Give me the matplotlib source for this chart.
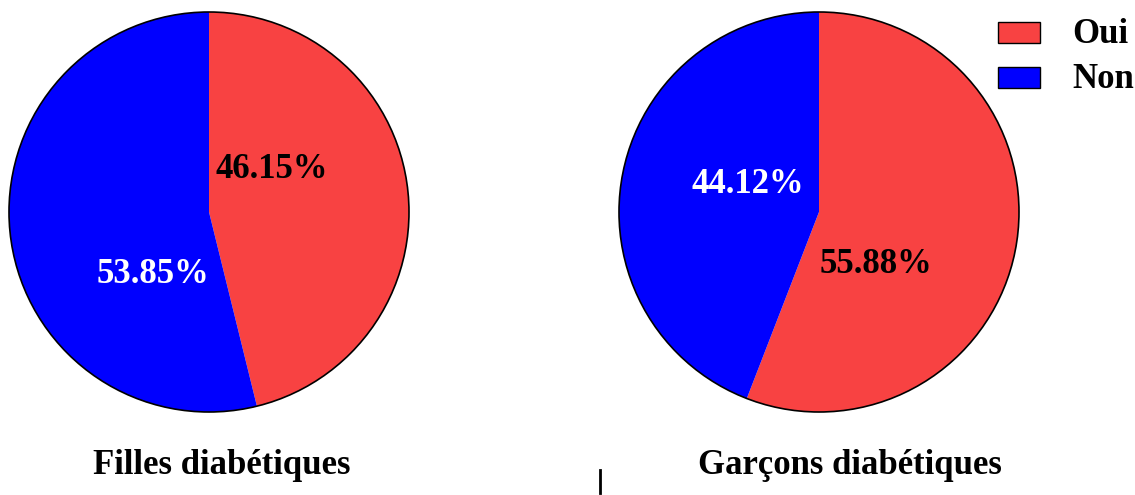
import matplotlib
matplotlib.use("Agg")
import matplotlib.pyplot as plt
from matplotlib.patches import Circle, Rectangle
from matplotlib.lines import Line2D

plt.rcParams['font.family'] = ['Liberation Serif', 'DejaVu Serif']
plt.rcParams['font.weight'] = 'bold'

categories = ["Oui", "Non"]
filles = [46.15, 53.85]
garcons = [55.88, 44.12]
titles = ["Filles diabétiques", "Garçons diabétiques"]
colors = ["#F84242", "#0000FF"]
text_colors = ["black", "white"]

W, H = 1135, 495
fig = plt.figure(figsize=(W / 100, H / 100), dpi=100)


def pie_axes(cx, cy, r):
    return fig.add_axes([(cx - r) / W, (H - cy - r) / H, 2 * r / W, 2 * r / H])


# percentage label anchors (baseline), in pie radius units
label_pos = [
    [(0.315, 0.17), (-0.28, -0.355)],
    [(0.285, -0.305), (-0.355, 0.095)],
]
centers = [(209, 212), (819, 212)]

for i, vals in enumerate([filles, garcons]):
    cx, cy = centers[i]
    ax = pie_axes(cx, cy, 200)
    wedges, texts, autotexts = ax.pie(
        vals, colors=colors, startangle=90, counterclock=False,
        autopct='%.2f%%', radius=1.0,
        wedgeprops=dict(linewidth=0),
        textprops=dict(fontsize=25, fontweight='bold'))
    for t, c, pos in zip(autotexts, text_colors, label_pos[i]):
        t.set_color(c)
        t.set_position(pos)
        t.set_va('baseline')
    ring = Circle((0, 0), 1.0, fill=False, edgecolor='black', linewidth=1.2)
    ring.set_clip_on(False)
    ax.add_patch(ring)
    ax.set_xlim(-1.0, 1.0)
    ax.set_ylim(-1.0, 1.0)
    ax.set_aspect('equal')
    ax.axis('off')

fig.text(222 / W, 1 - 474 / H, titles[0], ha='center', va='baseline', fontsize=25, fontweight='bold')
fig.text(850 / W, 1 - 474 / H, titles[1], ha='center', va='baseline', fontsize=25, fontweight='bold')

# legend: colour swatches with labels, top right
for k, (lab, c) in enumerate(zip(categories, colors)):
    top = 22 + 45 * k
    fig.add_artist(Rectangle((998 / W, 1 - (top + 21) / H), 42 / W, 21 / H,
                             facecolor=c, edgecolor='black', linewidth=1.0,
                             transform=fig.transFigure))
    fig.text(1072 / W, 1 - (top + 21) / H, lab, ha='left', va='baseline',
             fontsize=25, fontweight='bold')

fig.add_artist(Line2D([600 / W, 600 / W], [1 - 470 / H, 1 - 493 / H],
                      color='black', linewidth=2.0, transform=fig.transFigure))

fig.savefig("out.png", dpi=100)
